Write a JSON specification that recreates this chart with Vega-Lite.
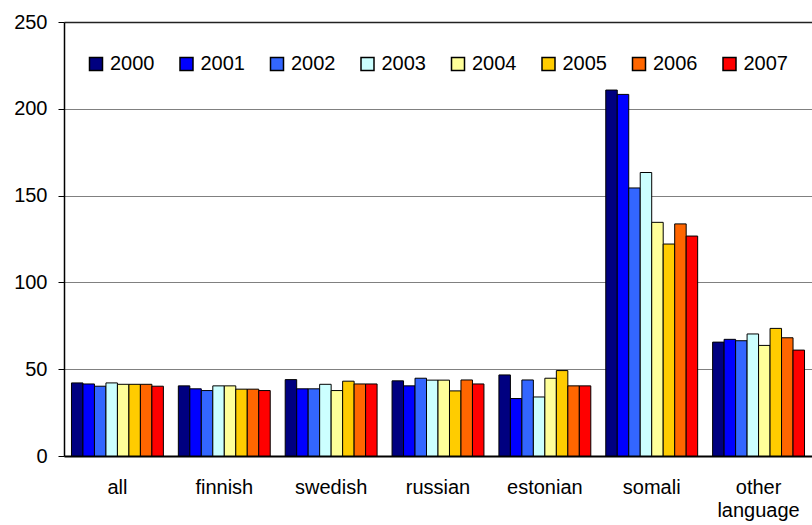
{
  "$schema": "https://vega.github.io/schema/vega-lite/v6.json",
  "autosize": "none",
  "padding": {"left": 64, "top": 22, "right": 0, "bottom": 69},
  "width": 748,
  "height": 434,
  "background": "white",
  "config": {
    "view": {"stroke": null},
    "font": "Liberation Sans"
  },
  "data": {
    "values": [
      {"language": "all", "year": "2000", "value": 42.1},
      {"language": "all", "year": "2001", "value": 41.5},
      {"language": "all", "year": "2002", "value": 40.2},
      {"language": "all", "year": "2003", "value": 42.1},
      {"language": "all", "year": "2004", "value": 41.3},
      {"language": "all", "year": "2005", "value": 41.3},
      {"language": "all", "year": "2006", "value": 41.3},
      {"language": "all", "year": "2007", "value": 40.2},
      {"language": "finnish", "year": "2000", "value": 40.4},
      {"language": "finnish", "year": "2001", "value": 38.7},
      {"language": "finnish", "year": "2002", "value": 37.7},
      {"language": "finnish", "year": "2003", "value": 40.4},
      {"language": "finnish", "year": "2004", "value": 40.4},
      {"language": "finnish", "year": "2005", "value": 38.5},
      {"language": "finnish", "year": "2006", "value": 38.5},
      {"language": "finnish", "year": "2007", "value": 37.7},
      {"language": "swedish", "year": "2000", "value": 44.0},
      {"language": "swedish", "year": "2001", "value": 38.7},
      {"language": "swedish", "year": "2002", "value": 38.7},
      {"language": "swedish", "year": "2003", "value": 41.3},
      {"language": "swedish", "year": "2004", "value": 37.7},
      {"language": "swedish", "year": "2005", "value": 43.1},
      {"language": "swedish", "year": "2006", "value": 41.5},
      {"language": "swedish", "year": "2007", "value": 41.5},
      {"language": "russian", "year": "2000", "value": 43.3},
      {"language": "russian", "year": "2001", "value": 40.4},
      {"language": "russian", "year": "2002", "value": 44.8},
      {"language": "russian", "year": "2003", "value": 43.7},
      {"language": "russian", "year": "2004", "value": 43.7},
      {"language": "russian", "year": "2005", "value": 37.5},
      {"language": "russian", "year": "2006", "value": 43.8},
      {"language": "russian", "year": "2007", "value": 41.5},
      {"language": "estonian", "year": "2000", "value": 46.7},
      {"language": "estonian", "year": "2001", "value": 33.1},
      {"language": "estonian", "year": "2002", "value": 43.8},
      {"language": "estonian", "year": "2003", "value": 34.0},
      {"language": "estonian", "year": "2004", "value": 44.8},
      {"language": "estonian", "year": "2005", "value": 49.2},
      {"language": "estonian", "year": "2006", "value": 40.4},
      {"language": "estonian", "year": "2007", "value": 40.4},
      {"language": "somali", "year": "2000", "value": 210.8},
      {"language": "somali", "year": "2001", "value": 208.3},
      {"language": "somali", "year": "2002", "value": 154.4},
      {"language": "somali", "year": "2003", "value": 163.3},
      {"language": "somali", "year": "2004", "value": 134.6},
      {"language": "somali", "year": "2005", "value": 122.1},
      {"language": "somali", "year": "2006", "value": 133.7},
      {"language": "somali", "year": "2007", "value": 126.7},
      {"language": "other language", "year": "2000", "value": 65.6},
      {"language": "other language", "year": "2001", "value": 67.2},
      {"language": "other language", "year": "2002", "value": 66.4},
      {"language": "other language", "year": "2003", "value": 70.3},
      {"language": "other language", "year": "2004", "value": 63.7},
      {"language": "other language", "year": "2005", "value": 73.5},
      {"language": "other language", "year": "2006", "value": 68.1},
      {"language": "other language", "year": "2007", "value": 61.0}
    ]
  },
  "mark": {"type": "bar", "stroke": "black", "strokeWidth": 1},
  "encoding": {
    "x": {
      "field": "language",
      "type": "nominal",
      "sort": ["all", "finnish", "swedish", "russian", "estonian", "somali", "other language"],
      "scale": {"paddingInner": 0.14, "paddingOuter": 0.07},
      "axis": {
        "title": null,
        "labelAngle": 0,
        "ticks": false,
        "domainColor": "black",
        "domainWidth": 2,
        "labelFontSize": 20,
        "labelColor": "black",
        "labelPadding": 21,
        "labelLineHeight": 23,
        "labelBaseline": "top",
        "labelExpr": "datum.label == 'other language' ? ['other', 'language'] : datum.label"
      }
    },
    "xOffset": {
      "field": "year",
      "type": "nominal",
      "scale": {"paddingInner": 0, "paddingOuter": 0}
    },
    "y": {
      "field": "value",
      "type": "quantitative",
      "scale": {"domain": [0, 250], "nice": false},
      "axis": {
        "title": null,
        "values": [0, 50, 100, 150, 200, 250],
        "domainColor": "black",
        "domainWidth": 1.5,
        "tickColor": "black",
        "tickSize": 6,
        "labelFontSize": 20,
        "labelColor": "black",
        "labelPadding": 11,
        "gridColor": {"condition": {"test": "datum.value == 250", "value": "#222222"}, "value": "#808080"},
        "gridWidth": {"condition": {"test": "datum.value == 250", "value": 1.5}, "value": 1}
      }
    },
    "color": {
      "field": "year",
      "type": "nominal",
      "scale": {
        "domain": ["2000", "2001", "2002", "2003", "2004", "2005", "2006", "2007"],
        "range": ["#000080", "#0000FF", "#3366FF", "#CCFFFF", "#FFFF99", "#FFCC00", "#FF6600", "#FF0000"]
      },
      "legend": {
        "title": null,
        "orient": "none",
        "legendX": 22,
        "legendY": 32,
        "direction": "horizontal",
        "columns": 8,
        "columnPadding": 21.5,
        "symbolType": "square",
        "symbolSize": 169,
        "symbolStrokeColor": "black",
        "symbolStrokeWidth": 1.5,
        "symbolOpacity": 1,
        "labelFontSize": 20,
        "labelColor": "black",
        "labelOffset": 4
      }
    }
  }
}
